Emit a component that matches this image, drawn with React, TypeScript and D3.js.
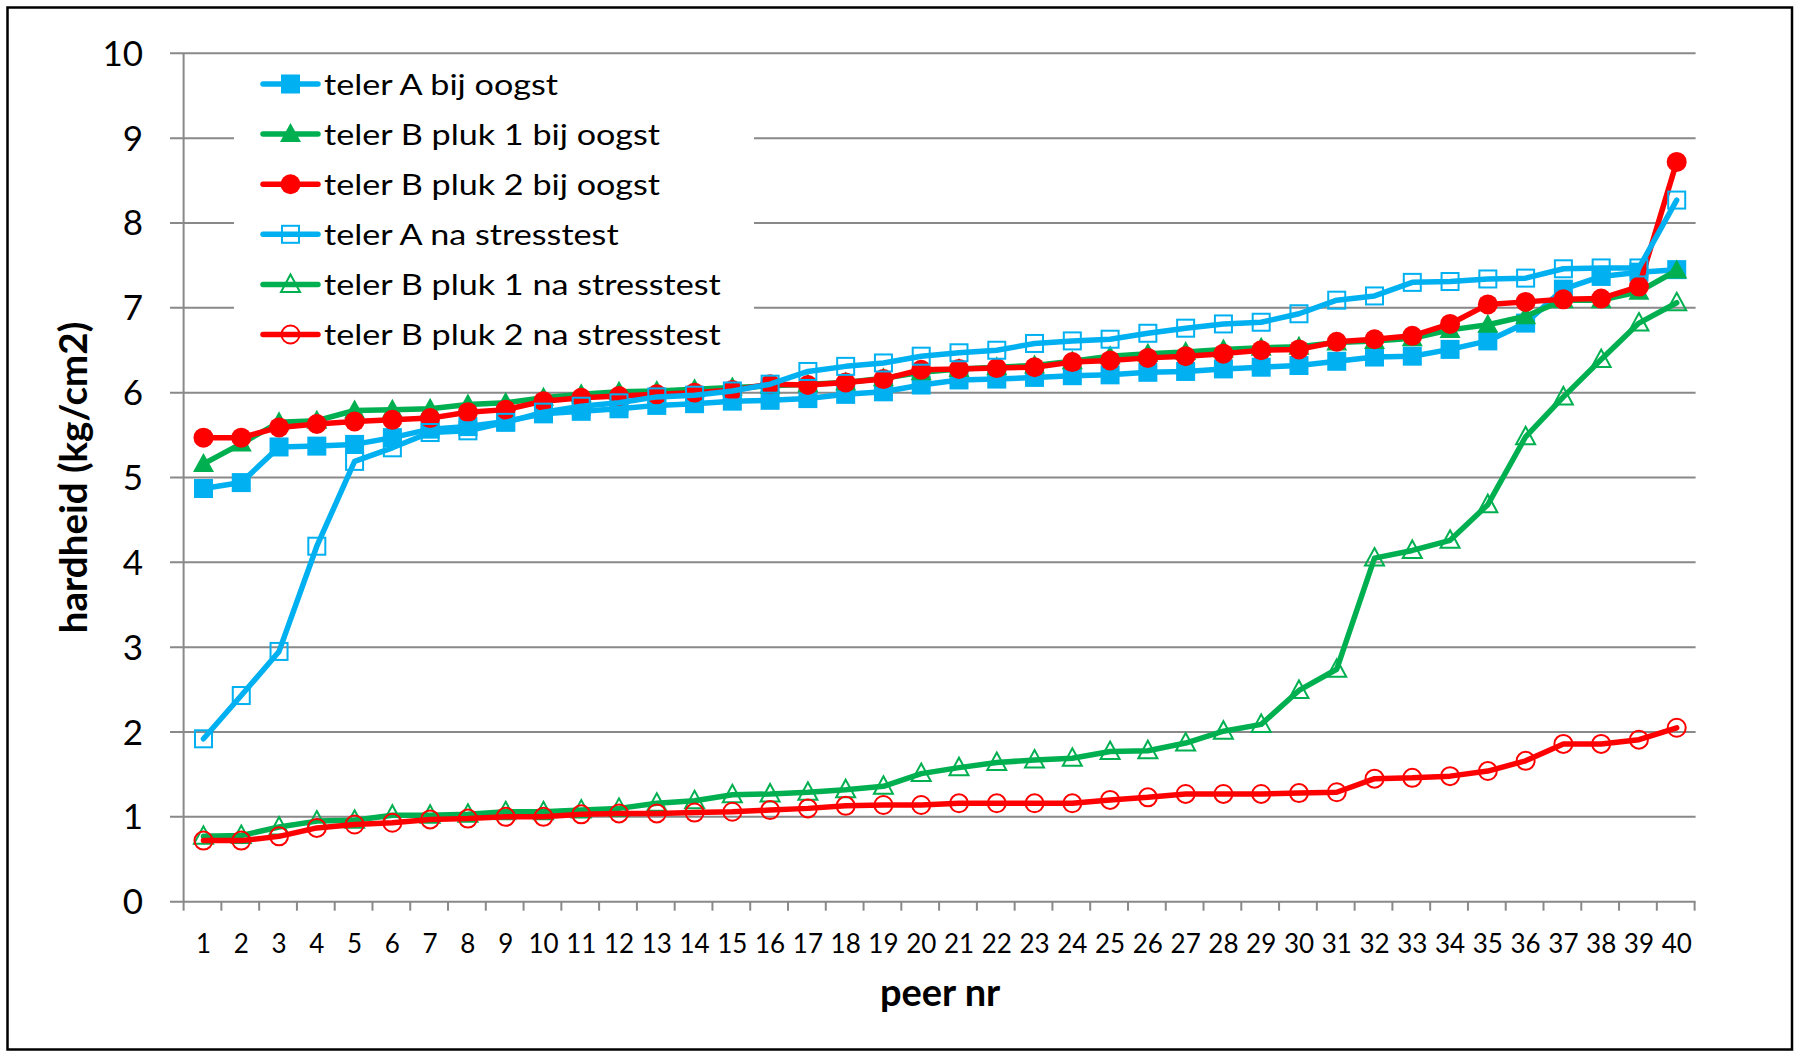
import React from "react";
import * as d3 from "d3";

// peer numbers (x categories)
const peerNr = [
  1, 2, 3, 4, 5, 6, 7, 8, 9, 10, 11, 12, 13, 14, 15, 16, 17, 18, 19, 20,
  21, 22, 23, 24, 25, 26, 27, 28, 29, 30, 31, 32, 33, 34, 35, 36, 37, 38, 39, 40,
];

const yTicks = [0, 1, 2, 3, 4, 5, 6, 7, 8, 9, 10];

const telerAOogst = [
  4.87, 4.94, 5.36, 5.37, 5.39, 5.47, 5.57, 5.6, 5.66, 5.75, 5.78, 5.81, 5.85, 5.87, 5.9, 5.91, 5.93, 5.98, 6.01, 6.09,
  6.15, 6.16, 6.18, 6.2, 6.21, 6.24, 6.25, 6.28, 6.3, 6.32, 6.37, 6.42, 6.43, 6.51, 6.61, 6.82, 7.22, 7.37, 7.42, 7.45,
];
const telerB1Oogst = [
  5.16, 5.4, 5.65, 5.67, 5.79, 5.8, 5.81, 5.86, 5.88, 5.94, 5.98, 6.01, 6.02, 6.04, 6.06, 6.08, 6.1, 6.12, 6.17, 6.24,
  6.28, 6.3, 6.32, 6.37, 6.43, 6.46, 6.48, 6.51, 6.53, 6.54, 6.59, 6.61, 6.64, 6.74, 6.8, 6.9, 7.09, 7.09, 7.19, 7.44,
];
const telerB2Oogst = [
  5.47, 5.47, 5.59, 5.63, 5.66, 5.68, 5.7, 5.77, 5.8, 5.9, 5.94, 5.96, 5.98, 6.0, 6.03, 6.1, 6.09, 6.12, 6.16, 6.27,
  6.28, 6.29, 6.3, 6.36, 6.38, 6.41, 6.43, 6.46, 6.5, 6.51, 6.6, 6.63, 6.67, 6.81, 7.04, 7.07, 7.1, 7.11, 7.25, 8.72,
];
const telerANa = [
  1.92, 2.43, 2.95, 4.19, 5.19, 5.35, 5.53, 5.55, 5.65, 5.77, 5.84, 5.88, 5.95, 5.97, 6.02, 6.1, 6.25, 6.31, 6.35, 6.43,
  6.47, 6.5, 6.58, 6.61, 6.63, 6.7, 6.76, 6.81, 6.83, 6.93, 7.09, 7.14, 7.3, 7.31, 7.34, 7.35, 7.46, 7.47, 7.47, 8.27,
];
const telerB1Na = [
  0.77, 0.78, 0.88, 0.95, 0.96, 1.02, 1.02, 1.03, 1.06, 1.06, 1.08, 1.1, 1.16, 1.19, 1.26, 1.27, 1.29, 1.32, 1.36, 1.51,
  1.58, 1.64, 1.67, 1.69, 1.77, 1.78, 1.87, 2.01, 2.09, 2.49, 2.74, 4.05, 4.14, 4.26, 4.68, 5.48, 5.95, 6.39, 6.82, 7.06,
];
const telerB2Na = [
  0.72, 0.72, 0.77, 0.87, 0.91, 0.93, 0.97, 0.98, 1.0, 1.0, 1.03, 1.04, 1.04, 1.05, 1.06, 1.08, 1.1, 1.13, 1.14, 1.14,
  1.16, 1.16, 1.16, 1.16, 1.2, 1.23, 1.27, 1.27, 1.27, 1.28, 1.29, 1.45, 1.46, 1.48, 1.54, 1.66, 1.86, 1.86, 1.91, 2.05,
];

const seriesNames = [
  "teler A bij oogst",
  "teler B pluk 1 bij oogst",
  "teler B pluk 2 bij oogst",
  "teler A na stresstest",
  "teler B pluk 1 na stresstest",
  "teler B pluk 2 na stresstest",
];

const blue = "#00B0F0";
const green = "#00B050";
const red = "#FF0000";
const grid = "#898989";

type Shape = "square" | "triangle" | "circle";
type Series = { name: string; values: number[]; color: string; shape: Shape; filled: boolean };

const series: Series[] = [
  { name: seriesNames[0], values: telerAOogst, color: blue, shape: "square", filled: true },
  { name: seriesNames[1], values: telerB1Oogst, color: green, shape: "triangle", filled: true },
  { name: seriesNames[2], values: telerB2Oogst, color: red, shape: "circle", filled: true },
  { name: seriesNames[3], values: telerANa, color: blue, shape: "square", filled: false },
  { name: seriesNames[4], values: telerB1Na, color: green, shape: "triangle", filled: false },
  { name: seriesNames[5], values: telerB2Na, color: red, shape: "circle", filled: false },
];

const width = 1796;
const height = 1053;
const plot = { left: 184.6, right: 1695.6, top: 53.3, bottom: 901.7 };
const font = "Lato, 'Open Sans', sans-serif";

const Marker: React.FC<{ s: Series; cx: number; cy: number }> = ({ s, cx, cy }) => {
  const fill = s.filled ? s.color : "none";
  const sw = s.filled ? 0 : 2;
  if (s.shape === "square") {
    const half = s.filled ? 9.5 : 8.5;
    return (
      <rect x={cx - half} y={cy - half} width={half * 2} height={half * 2}
        fill={fill} stroke={s.color} strokeWidth={sw} />
    );
  }
  if (s.shape === "circle") {
    return <circle cx={cx} cy={cy} r={s.filled ? 10 : 9} fill={fill} stroke={s.color} strokeWidth={sw} />;
  }
  const tri = s.filled
    ? `M${cx},${cy - 11}L${cx + 10.5},${cy + 8}L${cx - 10.5},${cy + 8}Z`
    : `M${cx},${cy - 10}L${cx + 9.5},${cy + 7.5}L${cx - 9.5},${cy + 7.5}Z`;
  return <path d={tri} fill={fill} stroke={s.color} strokeWidth={sw} strokeLinejoin="miter" />;
};

export default function App() {
  const x = d3.scaleBand<number>().domain(peerNr).range([plot.left, plot.right]);
  const y = d3.scaleLinear().domain([0, 10]).range([plot.bottom, plot.top]);
  const cx = (d: number) => (x(d) as number) + x.bandwidth() / 2;

  const line = d3
    .line<number>()
    .x((_, i) => cx(peerNr[i]))
    .y((v) => y(v));

  // x tick positions at category boundaries
  const xBounds = [...peerNr.map((d) => x(d) as number), plot.right];

  const legend = { x0: 263, x1: 318, mx: 290.5, tx: 324, y0: 84, dy: 50.1 };

  return (
    <svg width={width} height={height} style={{ position: "absolute", left: 0, top: 0, background: "#fff" }}
      fontFamily={font}>
      <rect x={0} y={0} width={width} height={height} fill="#fff" />
      <rect x={7.5} y={7.5} width={1784.5} height={1042} fill="none" stroke="#000" strokeWidth={2.5} />

      {/* gridlines (extend left of the axis as ticks) */}
      {yTicks.map((t) => (
        <line key={"g" + t} x1={170} x2={plot.right} y1={y(t)} y2={y(t)} stroke={grid} strokeWidth={2} />
      ))}
      {/* y axis */}
      <line x1={plot.left - 1} x2={plot.left - 1} y1={plot.top} y2={plot.bottom} stroke={grid} strokeWidth={2} />
      {/* x ticks */}
      {xBounds.map((b, i) => (
        <line key={"xt" + i} x1={b - 1} x2={b - 1} y1={plot.bottom} y2={plot.bottom + 9} stroke={grid} strokeWidth={2} />
      ))}

      {/* y tick labels */}
      {yTicks.map((t) => (
        <text key={"yl" + t} x={143} y={y(t) + 12.5} textAnchor="end" fontSize={35} fill="#000">
          {t}
        </text>
      ))}
      {/* x tick labels */}
      {peerNr.map((d) => (
        <text key={"xl" + d} x={cx(d)} y={953} textAnchor="middle" fontSize={26} fill="#000">
          {d}
        </text>
      ))}

      {/* axis titles */}
      <text x={(plot.left + plot.right) / 2} y={1006} textAnchor="middle" fontSize={38} fontWeight="bold">
        peer nr
      </text>
      <text transform={`translate(87, ${(plot.top + plot.bottom) / 2}) rotate(-90)`} textAnchor="middle"
        fontSize={38.5} fontWeight="bold">
        hardheid (kg/cm2)
      </text>

      {/* legend background */}
      <rect x={234} y={60} width={520} height={302} fill="#fff" />

      {/* series */}
      {series.map((s) => (
        <g key={s.name}>
          <path d={line(s.values) ?? ""} fill="none" stroke={s.color} strokeWidth={5.5} strokeLinejoin="round"
            strokeLinecap="round" />
          {s.values.map((v, i) => (
            <Marker key={i} s={s} cx={cx(peerNr[i])} cy={y(v)} />
          ))}
        </g>
      ))}

      {/* legend */}
      {series.map((s, i) => {
        const ly = legend.y0 + i * legend.dy;
        return (
          <g key={"lg" + i}>
            <line x1={legend.x0} x2={legend.x1} y1={ly} y2={ly} stroke={s.color} strokeWidth={5.5} strokeLinecap="round" />
            <Marker s={s} cx={legend.mx} cy={ly} />
            <g transform={`translate(${legend.tx}, ${ly + 10.5}) scale(1.22, 1)`}>
              <text x={0} y={0} fontSize={28} fill="#000">
                {s.name}
              </text>
            </g>
          </g>
        );
      })}
    </svg>
  );
}
